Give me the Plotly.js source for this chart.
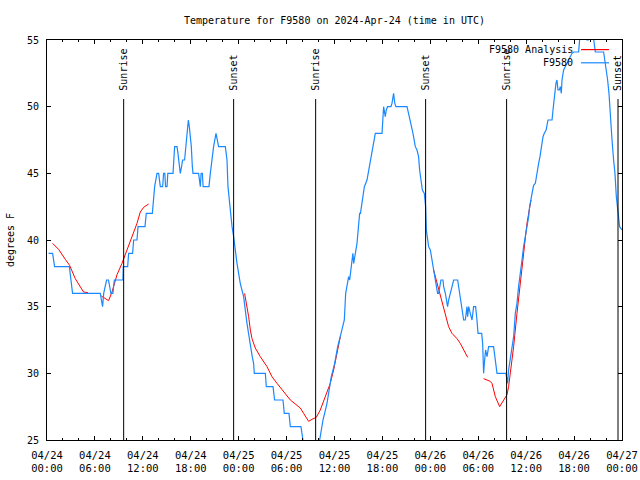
<!DOCTYPE html>
<html>
<head>
<meta charset="utf-8">
<script src="https://cdn.plot.ly/plotly-3.0.1.min.js"></script>
<style>html,body{margin:0;padding:0;background:#fff;}#chart{width:640px;height:480px;}</style>
</head>
<body>
<div id="chart"></div>
<script>
// Hours since 2024-04-24 00:00 UTC
var startUTC = Date.UTC(2024, 3, 24, 0, 0, 0);

// Observed temperature (F9580), degrees F
var obsHours = [0.2,0.7,0.95,2.8,3.0,3.2,6.67,6.96,7.1,7.46,7.7,8.0,8.25,8.43,9.5,9.55,10.1,10.22,10.72,10.85,11.27,11.4,12.27,12.43,13.19,13.35,13.48,13.77,13.98,14.19,14.48,14.6,14.75,14.85,15.03,15.13,15.78,15.98,16.28,16.4,16.69,16.85,16.98,17.23,17.4,17.6,17.7,17.82,18.07,18.2,18.28,18.98,19.05,19.2,19.3,19.45,19.55,20.28,20.45,20.86,21.16,21.3,21.49,22.33,22.54,22.66,22.95,23.17,23.37,
23.79,24.2,24.62,25.04,25.46,25.7,25.87,25.96,27.34,27.46,28.3,28.5,29.55,29.71,30.3,30.47,31.8,32.05,32.1,33.9,34.14,34.56,35.06,35.6,36.02,36.4,36.82,37.23,37.4,37.77,
37.9,38.1,38.3,38.4,38.55,38.82,39.0,39.15,39.25,39.45,39.57,39.74,40.07,40.36,40.57,40.73,40.9,41.11,41.95,42.15,42.36,42.48,42.65,43.07,43.2,43.4,43.55,43.7,45.08,45.29,45.49,45.74,45.9,46.12,46.33,46.53,46.66,46.83,47.0,47.25,47.41,47.5,
47.66,47.79,48.0,48.2,48.41,48.55,48.75,48.91,49.04,49.16,49.33,49.58,49.67,49.88,50.08,50.16,50.29,50.5,50.71,50.92,51.42,51.55,51.75,51.96,52.08,52.17,52.38,52.59,52.67,52.8,53.0,53.22,53.42,53.67,53.84,53.97,54.43,54.55,54.63,54.67,54.8,54.92,55.1,55.3,55.92,56.05,56.17,56.35,57.47,57.6,57.68,57.8,58.01,58.22,58.43,58.64,58.85,59.05,59.27,59.48,59.68,59.89,60.1,60.31,60.43,
60.52,60.68,60.8,60.93,61.15,61.27,61.4,61.56,61.73,61.86,61.98,62.11,62.27,62.5,62.73,63.24,63.36,63.44,63.56,63.73,63.86,63.98,64.15,64.28,64.4,64.49,64.69,64.9,65.11,65.32,65.53,65.74,65.94,66.57,66.69,66.8,66.95,67.1,67.3,67.45,67.6,67.8,67.95,68.1,68.25,68.45,68.66,69.7,69.85,70.03,70.2,70.37,70.54,70.75,70.95,71.12,71.29,71.42,71.54,71.7,72.0];
var obsTemp = [39,39,38,38,37,36,36,35,36,37,37,36,36,37,37,38,38,39,39,40,40,41,41,42,42,43,44,45,45,44,44,45,45,44,44,45,45,47,47,46.5,45,45.5,46,46,47,48.5,49,48.5,47,45.5,45,45,44.5,44,45,45,44,44,45,47,48,47.5,47,47,46,44,42,41,40.25,
38.25,36.75,35.75,33.75,32,31.25,30.75,30,30,29,29,28,28,27,27,26,26,25,24,24,25,26.5,27.75,29.75,30.75,32,33,34,36,37.25,
37,38,39,38.25,38.75,39.75,41,42,42,42.75,43.5,44,44.5,45.5,46.25,47,47.5,48,48,50,49.25,49.75,50,50,50.25,51,50.25,50,50,49.5,49,48.25,47.75,47,46.75,46.25,45.25,44.5,43.75,43.5,42.5,40.75,
40,39.5,39.25,38.5,37.75,37.25,36.5,36,36,36.5,37,37,36.5,36,35.25,35,35.5,36,36.5,37,37,36.5,35.75,34.75,34.25,34,34,35,34.25,35,34.5,34,35,35,34,33,33,32.25,30.75,30,31,31.75,31.25,32,32,31.5,30.75,30,30,29.5,29.25,30.25,31,32,32.75,34.5,35.25,36.5,37.75,38.5,39.5,40.25,40.75,41.75,42.5,
42.75,43.25,43.75,44.1,44.25,44.75,45.25,45.75,46.25,46.75,47.25,47.75,48,48.25,49,49,49.75,50.25,51.25,51.75,52,51.25,51.25,51.5,51,52,52.75,53,53.25,53.5,53.75,54,54.1,54.1,55,56,55,56,55,56,55,55,56,55,56,55,54.1,54.1,53.5,52.75,52,51,49,47.5,46,45,43.25,42.5,41.75,41,40.75];

// Analysis (F9580 Analysis), degrees F; null = no line drawn
var anaHours = [0.7,1.45,2.29,2.83,3.54,4.38,4.58,5.13,5.9,6.8,7.3,7.71,8.14,8.77,9.39,10.02,10.64,11.27,11.68,12.1,12.72,18.0,
24.74,25.04,25.25,25.46,25.67,26.08,26.71,27.55,28.17,28.8,29.63,30.47,31.09,31.72,32.13,32.76,33.18,33.72,34.22,34.85,35.47,35.89,36.23,36.51,36.73,42.0,
48.41,48.84,49.46,49.88,50.29,50.71,51.34,51.75,52.17,52.67,53.6,
54.67,55.5,55.72,56.14,56.68,57.3,57.6,57.8,58.01,58.43,58.85,59.27,59.68,60.1,60.43,60.61];
var anaTemp = [39.75,39.3,38.55,38.1,37.1,36.3,36.1,36.05,null,35.8,35.6,35.45,36.1,37.4,38.25,39.25,40.25,41.25,42.1,42.45,42.7,null,
36,35,34.25,33.25,32.6,31.9,31.25,30.5,29.75,29.25,28.6,28,27.7,27.4,27,26.4,26.55,26.7,27.25,28.25,29.25,30.25,31.25,32.25,32.75,null,
37.75,36.75,35.5,34.5,33.5,33,32.6,32.25,31.75,31.2,null,
29.6,29.4,29.25,28.25,27.5,28.1,28.4,29,30,32,34.5,36.75,39,41.25,42.4,43];

// Sun events (hours since start) and labels
var sunHours = [9.6, 23.37, 33.64, 47.41, 57.55, 71.5];
var sunLabels = ["Sunrise","Sunset","Sunrise","Sunset","Sunrise","Sunset"];

var seriesNames = ["F9580 Analysis", "F9580"];
var seriesColors = ["#ff0000", "#1a88ff"];

function toDate(h) {
  if (h === null) return null;
  return new Date(startUTC + Math.round(h * 3600000)).toISOString().slice(0, 19).replace('T', ' ');
}

var FONT = {family: "DejaVu Sans Mono, monospace", size: 10, color: "#000"};
var TICKFONT = {family: "DejaVu Sans Mono, monospace", size: 10.5, color: "#000"};

var traces = [
  {x: anaHours.map(toDate), y: anaTemp, type: "scatter", mode: "lines", name: seriesNames[0],
   line: {color: seriesColors[0], width: 1}, connectgaps: false},
  {x: obsHours.map(toDate), y: obsTemp, type: "scatter", mode: "lines", name: seriesNames[1],
   line: {color: seriesColors[1], width: 1.2}}
];

var shapes = [];
var annotations = [];
sunHours.forEach(function (h, i) {
  shapes.push({type: "line", xref: "x", yref: "paper", x0: toDate(h), x1: toDate(h), y0: 0, y1: 0.8525,
    line: {color: "#000", width: 1}, layer: "above"});
  annotations.push({xref: "x", yref: "paper", x: toDate(h), y: 0.8675, xanchor: "center", yanchor: "bottom",
    text: sunLabels[i], textangle: -90, showarrow: false, font: FONT});
});

// Legend (text left, line sample right)
var legY = [0.976, 0.943];
seriesNames.forEach(function (n, i) {
  annotations.push({xref: "paper", yref: "paper", x: 0.9185, y: legY[i], xanchor: "right", yanchor: "middle",
    text: n, showarrow: false, font: FONT});
  shapes.push({type: "line", xref: "paper", yref: "paper", x0: 0.9287, x1: 0.9774, y0: legY[i], y1: legY[i],
    line: {color: seriesColors[i], width: 1.2}});
});

var layout = {
  width: 640, height: 480,
  margin: {l: 47, r: 18, t: 40, b: 40, pad: 0},
  paper_bgcolor: "#fff", plot_bgcolor: "#fff",
  showlegend: false,
  font: FONT,
  title: {text: "Temperature for F9580 on 2024-Apr-24 (time in UTC)", font: FONT,
    x: 0.5, xref: "paper", xanchor: "center", y: 0.958, yref: "container", yanchor: "middle"},
  xaxis: {
    type: "date",
    range: [toDate(0), toDate(72)],
    tick0: toDate(0), dtick: 21600000,
    tickformat: "%m/%d<br>%H:%M",
    ticks: "inside", ticklen: 4, tickcolor: "#000", tickwidth: 1,
    minor: {dtick: 7200000, ticks: "inside", ticklen: 2, tickcolor: "#000", showgrid: false},
    showline: true, linecolor: "#000", linewidth: 1, mirror: "ticks",
    showgrid: false, zeroline: false,
    tickfont: TICKFONT, ticklabelstandoff: 5
  },
  yaxis: {
    range: [25, 55], dtick: 5, tick0: 25,
    ticks: "inside", ticklen: 4, tickcolor: "#000", tickwidth: 1,
    showline: true, linecolor: "#000", linewidth: 1, mirror: "ticks",
    showgrid: false, zeroline: false,
    tickfont: FONT, ticklabelstandoff: 5,
    title: {text: "degrees F", font: FONT, standoff: 10}
  },
  shapes: shapes,
  annotations: annotations
};

Plotly.newPlot("chart", traces, layout, {staticPlot: true, displayModeBar: false});
</script>
</body>
</html>
